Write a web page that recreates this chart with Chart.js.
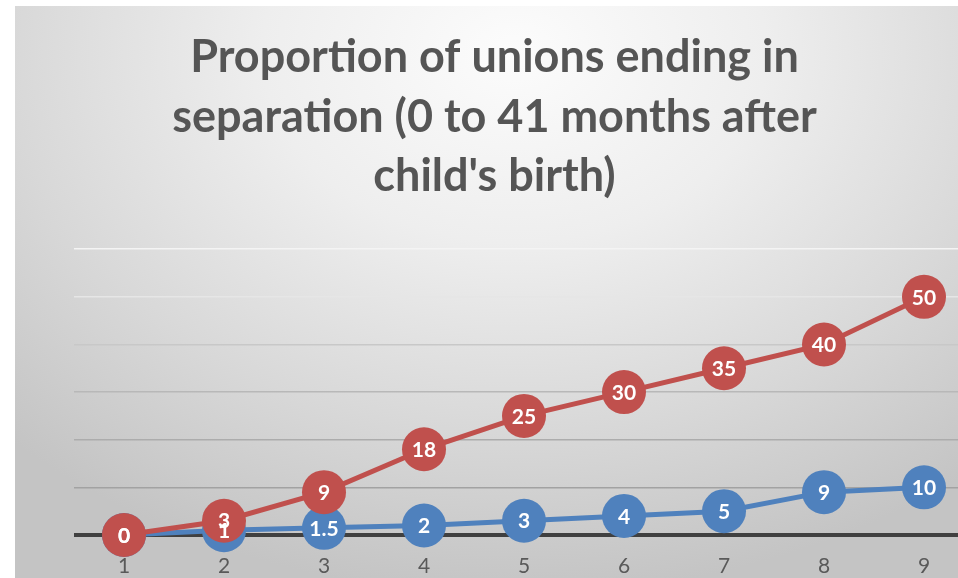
<!DOCTYPE html>
<html>
<head>
<meta charset="utf-8">
<script src="https://cdn.jsdelivr.net/npm/chart.js@4.4.1/dist/chart.umd.min.js"></script>
<style>
  html, body { margin: 0; padding: 0; background: #fff; overflow: hidden; }
  #wrap {
    position: absolute; left: 15px; top: 6px; width: 960px; height: 572px;
    background: radial-gradient(ellipse 75% 95% at 52% 8%, #fcfcfc 0%, #eeeeee 35%, #d8d8d8 70%, #c4c4c4 100%);
  }
</style>
</head>
<body>
<div id="wrap"><canvas id="myChart" width="960" height="572"></canvas></div>
<script>
const titleLines = ['Proportion of unions ending in', 'separation (0 to 41 months after', "child's birth)"];
const xLabels = ['1', '2', '3', '4', '5', '6', '7', '8', '9'];
const blueValues = [0, 1, 1.5, 2, 3, 4, 5, 9, 10];
const redValues = [0, 3, 9, 18, 25, 30, 35, 40, 50];
const yTicks = [0, 10, 20, 30, 40, 50, 60];

const gridColors = {0: '#404040', 10: '#a2a2a2', 20: '#acacac', 30: '#b8b8b8', 40: '#c8c8c8', 50: '#e6e6e6', 60: '#f4f4f4'};

// white labels in the middle of each marker
const pointLabels = {
  id: 'pointLabels',
  afterDatasetsDraw(chart) {
    const ctx = chart.ctx;
    ctx.save();
    ctx.fillStyle = '#ffffff';
    ctx.font = 'bold 21px Lato';
    ctx.textAlign = 'center';
    ctx.textBaseline = 'middle';
    [1, 0].forEach(i => {
      const meta = chart.getDatasetMeta(i);
      meta.data.forEach((pt, j) => {
        ctx.fillText(String(chart.data.datasets[i].data[j]), pt.x, pt.y + 1);
      });
    });
    ctx.restore();
  }
};

const ctx = document.getElementById('myChart').getContext('2d');
const myChart = new Chart(ctx, {
  type: 'line',
  data: {
    labels: xLabels,
    datasets: [{
      label: 'Series 1',
      data: blueValues,
      borderColor: '#4f81bd',
      backgroundColor: '#4f81bd',
      borderWidth: 5,
      pointRadius: 22,
      pointBorderWidth: 0,
      order: 2,
      clip: false
    }, {
      label: 'Series 2',
      data: redValues,
      borderColor: '#c0504d',
      backgroundColor: '#c0504d',
      borderWidth: 5,
      pointRadius: 22,
      pointBorderWidth: 0,
      order: 1,
      clip: false
    }]
  },
  options: {
    responsive: false,
    animation: false,
    layout: { autoPadding: false, padding: { left: 0, right: 1, top: 0, bottom: 1 } },
    plugins: {
      legend: { display: false },
      tooltip: { enabled: false },
      title: {
        display: true,
        text: titleLines,
        color: '#555555',
        font: { family: 'Lato', size: 45, weight: 'bold', lineHeight: 1.32 },
        padding: { top: 22, bottom: 43 }
      }
    },
    scales: {
      x: {
        offset: true,
        afterFit: axis => { axis.height = 42; },
        grid: { display: false, drawTicks: false },
        border: { display: false },
        ticks: { color: '#595959', font: { family: 'Lato', size: 21 }, padding: 19 }
      },
      y: {
        min: 0,
        max: 60,
        afterBuildTicks: axis => { axis.ticks = yTicks.map(v => ({ value: v })); },
        afterFit: axis => { axis.width = 59; },
        grid: {
          drawTicks: false,
          color: c => gridColors[c.tick.value] || '#bbbbbb',
          lineWidth: c => c.tick.value === 0 ? 4 : 1.6
        },
        border: { display: false },
        ticks: { display: false }
      }
    }
  },
  plugins: [pointLabels]
});
</script>
</body>
</html>
